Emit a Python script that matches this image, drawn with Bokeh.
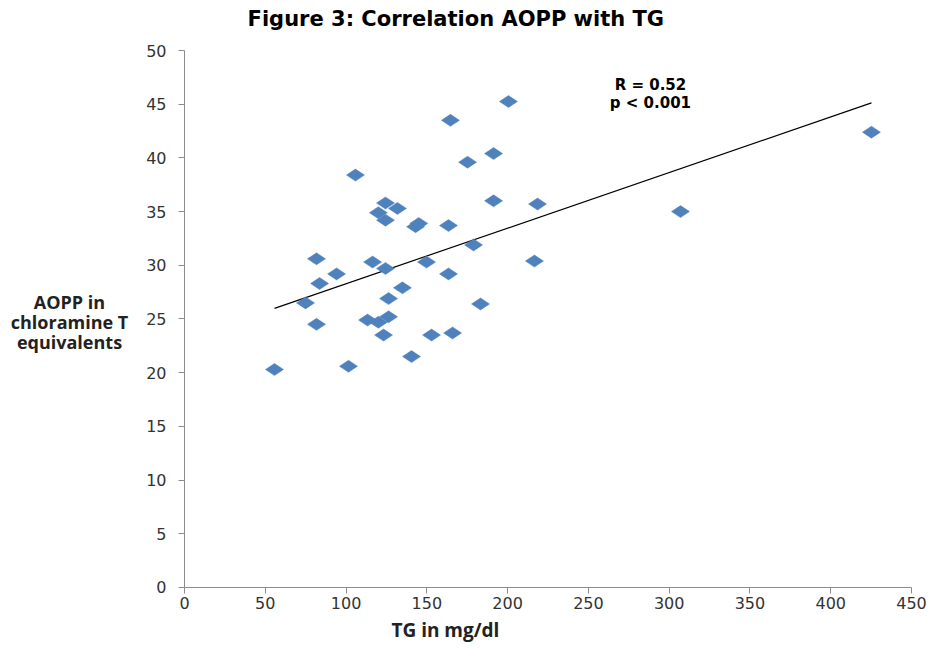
from bokeh.plotting import figure
from bokeh.models import Range1d, FixedTicker, Label
from bokeh.embed import file_html
from bokeh.resources import INLINE

# TG (mg/dl) and AOPP (chloramine T equivalents)
tg = [55.7, 74.9, 81.7, 81.7, 83.6, 94.1, 101.5, 105.8, 113.3, 116.4,
      120.0, 120.0, 124.4, 124.4, 124.4, 123.2, 126.3, 126.3, 131.8, 134.9,
      140.5, 143.0, 145.0, 149.8, 152.9, 163.4, 163.4, 164.6, 165.9, 175.2,
      178.9, 183.2, 191.3, 191.3, 200.5, 216.6, 218.5, 307.0, 425.2]
aopp = [20.3, 26.5, 24.5, 30.6, 28.3, 29.2, 20.6, 38.4, 24.9, 30.3,
        24.7, 34.9, 35.8, 34.2, 29.7, 23.5, 26.9, 25.2, 35.3, 27.9,
        21.5, 33.6, 33.9, 30.3, 23.5, 33.7, 29.2, 43.5, 23.7, 39.6,
        31.9, 26.4, 40.4, 36.0, 45.25, 30.4, 35.7, 35.0, 42.4]

trend_slope = 0.0518
trend_intercept = 23.1

x_ticks = [0, 50, 100, 150, 200, 250, 300, 350, 400, 450]
y_ticks = [0, 5, 10, 15, 20, 25, 30, 35, 40, 45, 50]

title_text = "Figure 3: Correlation AOPP with  TG"
x_label = "TG in mg/dl"
y_label_lines = ["AOPP in", "chloramine T", "equivalents"]
stat_lines = ["R = 0.52", "p < 0.001"]

# frame spans the whole canvas; the axes sit at x=0 / y=0 and are bounded
p = figure(frame_width=933, frame_height=646,
           min_border_left=0, min_border_right=0,
           min_border_top=0, min_border_bottom=0,
           x_range=Range1d(-113.9, 463.6), y_range=Range1d(-5.5, 54.66),
           output_backend="svg", toolbar_location=None, title=None)

p.outline_line_color = None
p.xgrid.visible = False
p.ygrid.visible = False
p.background_fill_color = "white"
p.border_fill_color = "white"

for ax in (p.xaxis[0], p.yaxis[0]):
    ax.axis_line_color = "#8c8c8c"
    ax.major_tick_line_color = "#8c8c8c"
    ax.major_tick_in = 0
    ax.major_tick_out = 6
    ax.minor_tick_line_color = None
    ax.major_label_text_font = "DejaVu Sans"
    ax.major_label_text_font_size = "16px"
    ax.major_label_text_color = "#333333"

p.xaxis[0].ticker = FixedTicker(ticks=x_ticks)
p.yaxis[0].ticker = FixedTicker(ticks=y_ticks)
p.xaxis[0].bounds = (0, 450)
p.yaxis[0].bounds = (0, 50)
p.xaxis[0].fixed_location = 0
p.yaxis[0].fixed_location = 0
p.xaxis[0].major_label_standoff = 4
p.yaxis[0].major_label_standoff = 12

# title
p.add_layout(Label(x=170.2, y=52.9, text=title_text, text_align="center",
                   text_baseline="middle", text_font="DejaVu Sans",
                   text_font_style="bold", text_font_size="21px", text_color="black"))

# y label (three centred lines)
for i, line in enumerate(y_label_lines):
    p.add_layout(Label(x=-71.2, y=26.54 - i * 1.86, text=line, text_align="center",
                       text_baseline="middle", text_font="Open Sans",
                       text_font_style="bold", text_font_size="18px", text_color="#222222"))

# x label
p.add_layout(Label(x=161.5, y=-4.0, text=x_label, text_align="center",
                   text_baseline="middle", text_font="Open Sans",
                   text_font_style="bold", text_font_size="19px", text_color="#222222"))

# trend line
x0, x1 = min(tg), max(tg)
p.line([x0, x1], [trend_intercept + trend_slope * x0, trend_intercept + trend_slope * x1],
       line_color="black", line_width=1.2)

# points
p.scatter(tg, aopp, marker="diamond", size=18, angle=1.5708,
          fill_color="#4F81BD", line_color="#4F81BD", line_width=0.5)

# stats
for i, line in enumerate(stat_lines):
    p.add_layout(Label(x=288.4, y=46.83 - i * 1.76, text=line, text_align="center",
                       text_baseline="middle", text_font="DejaVu Sans",
                       text_font_style="bold", text_font_size="15px", text_color="black"))

open("out.html", "w").write(file_html(p, INLINE))
